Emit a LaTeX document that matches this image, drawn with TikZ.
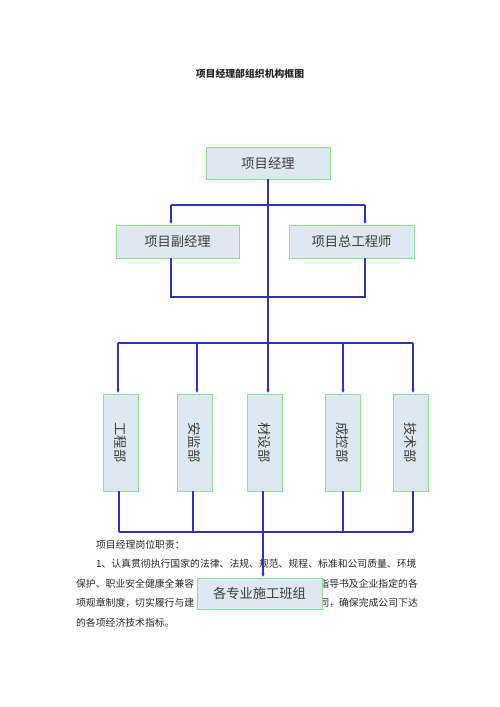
\documentclass[tikz,border=0pt]{standalone}
\usepackage{fontspec}
\setmainfont{Noto Sans CJK SC}
\usepackage{tikz}
\usetikzlibrary{arrows.meta}

\definecolor{boxfill}{HTML}{DDE8F3}
\definecolor{boxline}{HTML}{8EE08E}
\definecolor{linkblue}{HTML}{3232B4}
\definecolor{boxtext}{HTML}{3C3C3C}

\tikzset{
  box/.style={draw=boxline, line width=1.4pt, fill=boxfill, text=boxtext,
    font=\fontsize{18.9}{20}\selectfont, inner sep=0pt},
  link/.style={draw=linkblue, line width=1.8pt},
  arr/.style={link, -{Latex[length=6pt,width=5pt]}},
  txt/.style={font=\fontsize{14}{16}\selectfont, text=black!85, inner sep=0pt},
}

\begin{document}
\begin{tikzpicture}[x=0.5mm,y=-0.5mm]
        \useasboundingbox (0,0) rectangle (500,707);

        \node[txt, font=\bfseries\fontsize{14}{16}\selectfont] (title) at (250,74) {项目经理部组织机构框图};

        % text below the chart
        \node[txt, anchor=west] (l1) at (96,545) {项目经理岗位职责：};
        \node[txt, anchor=west] (l2) at (96,564) {1、认真贯彻执行国家的法律、法规、规范、规程、标准和公司质量、环境};
        \node[txt, anchor=west] (l3a) at (76,584) {保护、职业安全健康全兼容};
        \node[txt, anchor=east] (l3b) at (418,584) {指导书及企业指定的各};
        \node[txt, anchor=west] (l4a) at (76,603) {项规章制度，切实履行与建};
        \node[txt, anchor=east] (l4b) at (418,603) {同，确保完成公司下达};
        \node[txt, anchor=west] (l5) at (76,623) {的各项经济技术指标。};

        \node[box, minimum width=62mm, minimum height=16mm] (pm) at (268,163) {项目经理};
        \node[box, minimum width=61.5mm, minimum height=16.5mm] (dpm) at (177.5,241.5) {项目副经理};
        \node[box, minimum width=62.5mm, minimum height=16.5mm] (ce) at (351.5,241.5) {项目总工程师};

        \foreach \n/\x/\t in {1/120.5/工程部,2/195/安监部,3/265/材设部,4/343/成控部,5/410.5/技术部}
            \node[box, minimum width=17.5mm, minimum height=48.5mm] (d\n) at (\x,442.5) {\rotatebox{-90}{\t}};

        \node[box, minimum width=62.5mm, minimum height=15.5mm] (team) at (259.5,593.5) {各专业施工班组};

        % upper level
        \coordinate (ua) at (171,205);
        \coordinate (ub) at (365,205);
        \coordinate (la) at (171,297);
        \coordinate (lb) at (365,297);
        \coordinate (hub) at (268,343);

        \draw[link] (pm.south) -- (hub);
        \draw[link] (ua) -- (ub);
        \draw[arr] (ua) -- (ua |- dpm.north);
        \draw[arr] (ub) -- (ub |- ce.north);
        \draw[link] (ua |- dpm.south) -- (la) -- (lb) -- (ub |- ce.south);

        % departments
        \foreach \n/\x in {1/118,2/197,3/268,4/343,5/413} {
            \coordinate (s\n) at (\x,343);
            \draw[arr] (s\n) -- (s\n |- d\n.north);
        }
        \draw[link] (s1) -- (s5);

        \foreach \n/\x in {1/119,2/193,4/343,5/413} {
            \coordinate (e\n) at (\x,532);
            \draw[link] (e\n |- d\n.south) -- (e\n);
        }
        \draw[link] (e1) -- (e5);

        \coordinate (m) at (263,532);
        \draw[arr] (m |- d3.south) -- (m |- team.north);
\end{tikzpicture}
\end{document}
